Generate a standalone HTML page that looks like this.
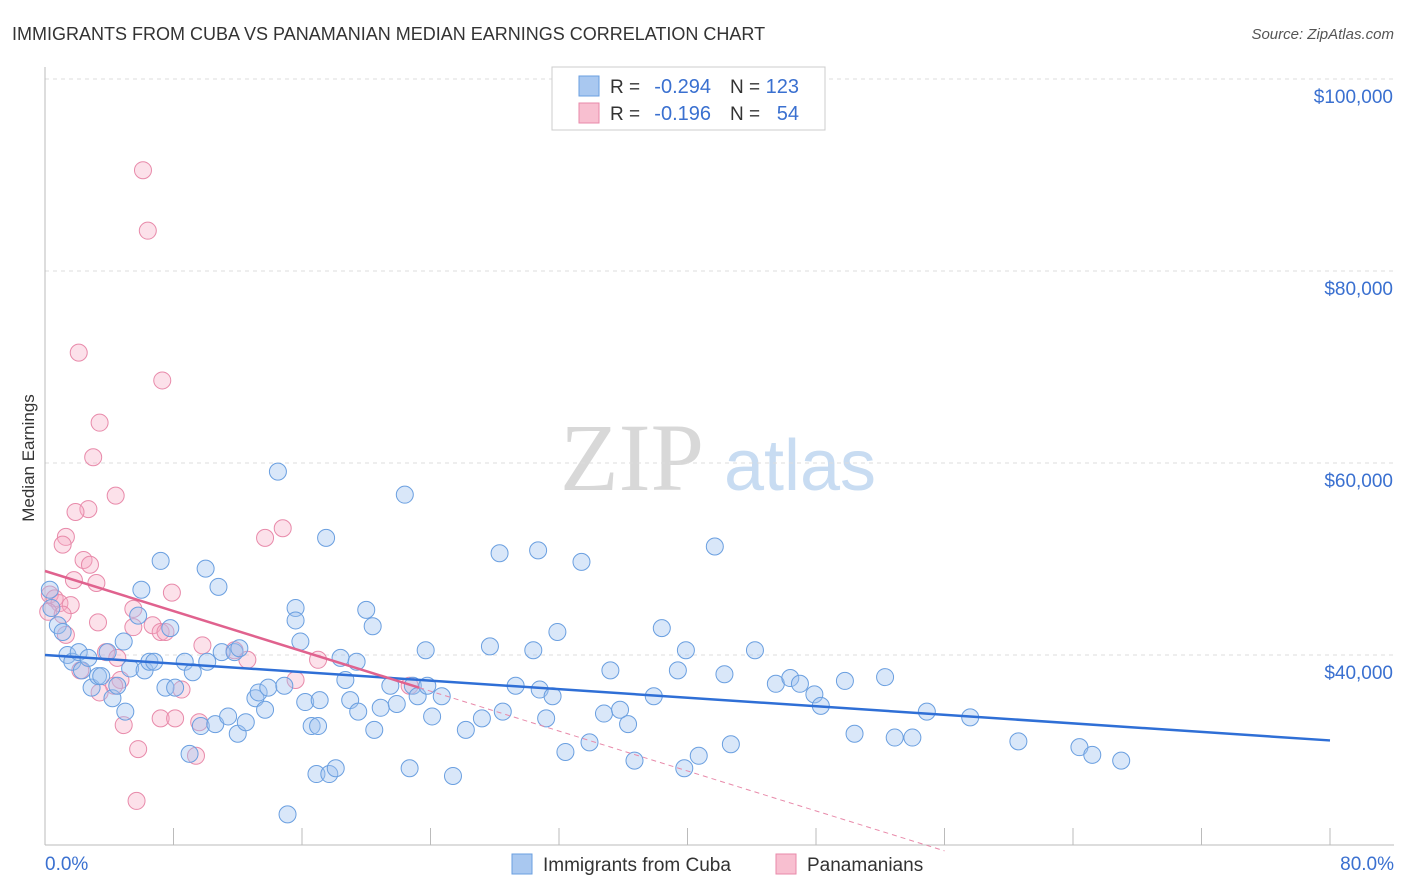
<!DOCTYPE html>
<html><head><meta charset="utf-8">
<style>
body{margin:0;background:#fff;font-family:"Liberation Sans",sans-serif;}
svg{display:block}
</style></head>
<body>
<svg id="chart" width="1406" height="892" xmlns="http://www.w3.org/2000/svg">
<text x="12" y="40" font-size="18" fill="#333">IMMIGRANTS FROM CUBA VS PANAMANIAN MEDIAN EARNINGS CORRELATION CHART</text>
<text x="1394" y="39" font-size="15" fill="#555" font-style="italic" text-anchor="end">Source: ZipAtlas.com</text>
<text x="34" y="458" font-size="17" fill="#333" text-anchor="middle" transform="rotate(-90 34 458)">Median Earnings</text>
<g>
<text x="632" y="490" font-size="96" fill="#d8d8d8" font-family="Liberation Serif, serif" text-anchor="middle">ZIP</text>
<text x="800" y="490" font-size="72" fill="#c8dcf2" text-anchor="middle">atlas</text>
</g>
<g id="grid"></g>
<g id="axes"></g>
<g id="pink"></g>
<g id="blue"></g>
<g id="lines"></g>
<g>
<rect x="552" y="67" width="273" height="63" fill="#fff" stroke="#ccc"/>
<rect x="579" y="76" width="20" height="20" fill="#a9c8f0" stroke="#6a9fe0"/>
<rect x="579" y="103" width="20" height="20" fill="#f8bfd0" stroke="#e88aaa"/>
<text x="610" y="93" font-size="19" fill="#333">R =</text>
<text x="711" y="93" font-size="20" fill="#3a70d0" text-anchor="end">-0.294</text>
<text x="730" y="93" font-size="19" fill="#333">N =</text>
<text x="799" y="93" font-size="20" fill="#3a70d0" text-anchor="end">123</text>
<text x="610" y="120" font-size="19" fill="#333">R =</text>
<text x="711" y="120" font-size="20" fill="#3a70d0" text-anchor="end">-0.196</text>
<text x="730" y="120" font-size="19" fill="#333">N =</text>
<text x="799" y="120" font-size="20" fill="#3a70d0" text-anchor="end">54</text>
</g>
<g>
<g><rect x="512" y="854" width="20" height="20" fill="#a9c8f0" stroke="#6a9fe0"/>
<text x="543" y="871" font-size="19" fill="#333">Immigrants from Cuba</text></g>
<g><rect x="776" y="854" width="20" height="20" fill="#f8bfd0" stroke="#e88aaa"/>
<text x="807" y="871" font-size="19" fill="#333">Panamanians</text></g>
</g>
</svg>
<script>
const xTicks=[0,8,16,24,32,40,48,56,64,72,80];
const yTicks=[40000,60000,80000,100000];
const yTickLabels=["$40,000","$60,000","$80,000","$100,000"];
const cubaX=[0.3,0.4,0.8,1.1,1.4,1.7,2.1,2.3,2.7,2.9,3.3,3.5,3.9,4.2,4.5,5.0,4.9,5.3,5.8,6.0,6.2,6.5,6.8,7.2,7.5,7.8,8.1,8.7,9.2,9.0,9.7,10.0,10.1,10.6,10.8,11.0,11.4,11.8,12.0,12.1,12.5,13.1,13.3,13.7,13.9,14.5,14.9,15.6,15.6,15.9,16.2,16.6,16.9,17.0,17.1,17.5,17.7,18.1,18.4,18.7,19.0,19.4,19.5,20.0,20.4,20.5,20.9,21.5,21.9,22.4,22.7,22.9,23.2,23.7,23.8,24.1,24.7,25.4,26.2,27.2,27.7,28.3,28.5,29.3,30.4,30.7,30.8,31.2,31.6,31.9,32.4,33.4,33.9,34.8,35.2,35.8,36.3,36.7,37.9,38.4,39.4,39.9,39.8,40.7,41.7,42.3,42.7,44.2,45.5,46.4,47.0,47.9,48.3,49.8,50.4,52.3,52.9,54.0,54.9,57.6,60.6,64.4,65.2,67.0,15.1];
const cubaY=[46.8,44.9,43.1,42.4,40.0,39.3,40.3,38.4,39.7,36.6,37.8,37.8,40.3,35.5,36.8,34.1,41.4,38.6,44.1,46.8,38.4,39.3,39.3,49.8,36.6,42.8,36.6,39.3,38.2,29.7,32.6,49.0,39.3,32.8,47.1,40.3,33.6,40.3,31.8,40.7,33.0,35.5,36.1,34.3,36.6,59.1,36.8,44.9,43.6,41.4,35.1,32.6,27.6,32.6,35.3,52.2,27.6,28.2,39.7,37.4,35.3,39.3,34.1,44.7,43.0,32.2,34.5,36.8,34.9,56.7,28.2,36.8,35.7,40.5,36.8,33.6,35.7,27.4,32.2,33.4,40.9,50.6,34.1,36.8,40.5,50.9,36.4,33.4,35.7,42.4,29.9,49.7,30.9,33.9,38.4,34.3,32.8,29.0,35.7,42.8,38.4,40.5,28.2,29.5,51.3,38.0,30.7,40.5,37.0,37.6,37.0,35.9,34.7,37.3,31.8,37.7,31.4,31.4,34.1,33.5,31.0,30.4,29.6,29.0,23.4];
const panX=[6.1,6.4,2.1,7.3,3.4,3.0,4.4,2.7,1.9,14.8,13.7,1.3,1.1,2.4,2.8,1.8,3.2,7.9,0.3,0.6,0.9,1.6,0.2,1.1,5.5,3.3,6.7,1.3,7.2,7.5,5.5,3.8,9.8,11.8,4.5,12.6,17.0,2.2,4.7,4.3,15.6,8.5,3.4,22.7,7.2,8.1,9.6,4.9,5.8,9.4,5.7];
const panY=[90.5,84.2,71.5,68.6,64.2,60.6,56.6,55.2,54.9,53.2,52.2,52.3,51.5,49.9,49.4,47.8,47.5,46.5,46.3,45.9,45.4,45.2,44.5,44.2,44.8,43.4,43.1,42.1,42.4,42.4,42.9,40.3,41.0,40.5,39.7,39.5,39.5,38.4,37.4,36.8,37.4,36.4,36.1,36.8,33.4,33.4,33.0,32.7,30.2,29.5,24.8];
const cubaTrend=[40.0,31.1];
const panTrend=[48.75,36.6,19.6];
const panTrendX=[0,23.3,56];
const NS="http://www.w3.org/2000/svg";
const X=v=>45+v*(1285/80);
const Y=v=>1039-v*0.0096;
function mk(tag,attrs,parent){const e=document.createElementNS(NS,tag);for(const k in attrs)e.setAttribute(k,attrs[k]);parent.appendChild(e);return e;}
const gridG=document.getElementById('grid'),axesG=document.getElementById('axes');
yTicks.forEach((t,i)=>{
  const l=mk('line',{x1:45,x2:1394,y1:Y(t),y2:Y(t),stroke:'#ddd','stroke-dasharray':'4 4'},gridG);
  
  
  const tx=mk('text',{x:1393,y:Y(t)+24,'font-size':19,fill:'#3a70d0','text-anchor':'end'},axesG);
  tx.textContent=yTickLabels[i];
  
  
});
const ya=mk('line',{x1:45,x2:45,y1:67,y2:845,stroke:'#bbb'},axesG);


const xa=mk('line',{x1:45,x2:1394,y1:845,y2:845,stroke:'#bbb'},axesG);


xTicks.forEach(t=>{
  const l=mk('line',{x1:X(t),x2:X(t),y1:828,y2:845,stroke:'#bbb'},axesG);
  
  
});
const xl0=mk('text',{x:45,y:870,'font-size':19,fill:'#3a70d0'},axesG);xl0.textContent='0.0%';


const xl1=mk('text',{x:1394,y:870,'font-size':19,fill:'#3a70d0','text-anchor':'end'},axesG);xl1.textContent='80.0%';


const pg=document.getElementById('pink');
panX.forEach((v,i)=>{
  const c=mk('circle',{cx:X(v),cy:Y(panY[i]*1000),r:8.5,fill:'rgba(245,170,195,0.35)',stroke:'#e88aaa','stroke-width':1},pg);
  
  
});
const bg=document.getElementById('blue');
cubaX.forEach((v,i)=>{
  const c=mk('circle',{cx:X(v),cy:Y(cubaY[i]*1000),r:8.5,fill:'rgba(160,195,240,0.4)',stroke:'#6a9fe0','stroke-width':1},bg);
  
  
});
const lg=document.getElementById('lines');
const bl=mk('line',{x1:X(0),y1:Y(cubaTrend[0]*1000),x2:X(80),y2:Y(cubaTrend[1]*1000),stroke:'#2f6fd6','stroke-width':2.5},lg);


const pl=mk('line',{x1:X(panTrendX[0]),y1:Y(panTrend[0]*1000),x2:X(panTrendX[1]),y2:Y(panTrend[1]*1000),stroke:'#e0628e','stroke-width':2.5},lg);


const pd=mk('line',{x1:X(panTrendX[1]),y1:Y(panTrend[1]*1000),x2:X(panTrendX[2]),y2:Y(panTrend[2]*1000),stroke:'#e88aaa','stroke-width':1,'stroke-dasharray':'5 4'},lg);


</script>
</body></html>
